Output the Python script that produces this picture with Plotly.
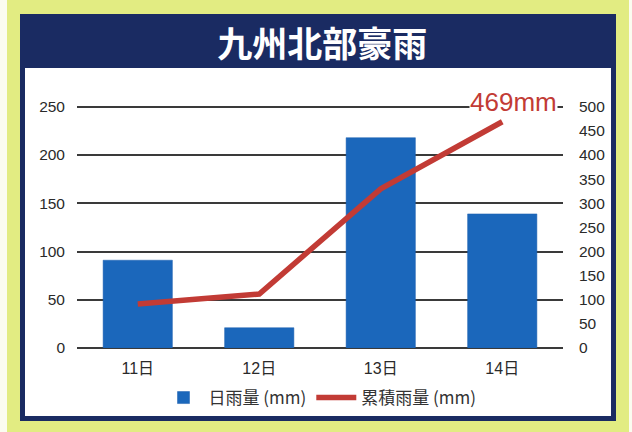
import plotly.graph_objects as go

# ---- data ----
days = ["11日", "12日", "13日", "14日"]
daily_rain = [91, 21, 218, 139]          # 日雨量 (mm)
cumulative_rain = [91, 112, 330, 469]    # 累積雨量 (mm)
left_ticks = [0, 50, 100, 150, 200, 250]
right_ticks = [0, 50, 100, 150, 200, 250, 300, 350, 400, 450, 500]

W, H = 632, 432
L, R, T, B = 77, 69, 102, 84
PW, PH = W - L - R, H - T - B


def px(x):
    return (x - L) / PW


def py(y):
    return (H - B - y) / PH


fig = go.Figure()

fig.add_trace(go.Bar(
    x=days, y=daily_rain, name="日雨量 (mm)",
    marker=dict(color="#1b67bb", line=dict(color="#1a5fae", width=0.5)),
    yaxis="y",
))
fig.add_trace(go.Scatter(
    x=days, y=cumulative_rain, name="累積雨量 (mm)", mode="lines",
    line=dict(color="#c23b35", width=5.5),
    yaxis="y2",
))

shapes = [
    # yellow-green outer border
    dict(type="rect", xref="paper", yref="paper", x0=px(7), x1=px(629), y0=py(0), y1=py(432),
         fillcolor="#e2ec82", line=dict(width=0), layer="below"),
    # navy frame
    dict(type="rect", xref="paper", yref="paper", x0=px(20), x1=px(616), y0=py(14), y1=py(421),
         fillcolor="#1a2b62", line=dict(width=0), layer="below"),
    # white inner panel
    dict(type="rect", xref="paper", yref="paper", x0=px(25), x1=px(611), y0=py(68), y1=py(416),
         fillcolor="#ffffff", line=dict(width=0), layer="below"),
]

fig.update_layout(
    width=W, height=H,
    margin=dict(l=L, r=R, t=T, b=B, pad=0),
    paper_bgcolor="#fbfcf0",
    plot_bgcolor="rgba(0,0,0,0)",
    shapes=shapes,
    bargap=0.43,
    showlegend=True,
    title=dict(
        text="<b>九州北部豪雨</b>",
        x=0.51, xanchor="center", y=1 - 45 / H, yanchor="middle", xref="container", yref="container",
        font=dict(family="Noto Sans CJK JP", size=35, color="#ffffff"),
    ),
    font=dict(family="Liberation Sans, Arial, sans-serif", color="#2a2a2a"),
    xaxis=dict(
        type="category", showgrid=False, zeroline=False, showline=False,
        ticks="", ticklabelstandoff=9,
        tickfont=dict(size=16, color="#2a2a2a", family="Liberation Sans, Noto Sans CJK JP"),
    ),
    yaxis=dict(
        range=[0, 255], tickvals=left_ticks, showgrid=True, gridcolor="#3a3a3a", gridwidth=1.5,
        zeroline=True, zerolinecolor="#3a3a3a", zerolinewidth=1.8, showline=False,
        ticks="", ticklabelstandoff=11, tickfont=dict(size=15.5, color="#2a2a2a"),
    ),
    yaxis2=dict(
        range=[0, 510], tickvals=right_ticks, overlaying="y", side="right",
        showgrid=False, zeroline=False, showline=False,
        ticks="", ticklabelstandoff=15, tickfont=dict(size=15.5, color="#2a2a2a"),
    ),
    legend=dict(
        orientation="h", x=0.5, xanchor="center", y=py(398), yanchor="middle",
        font=dict(size=17, color="#333333", family="Noto Sans CJK JP, Liberation Sans"),
        bgcolor="rgba(0,0,0,0)", itemwidth=40, tracegroupgap=0,
    ),
    annotations=[
        dict(
            text=f"{cumulative_rain[-1]}mm", xref="paper", yref="paper",
            x=px(513), y=py(102), xanchor="center", yanchor="middle", showarrow=False,
            font=dict(size=26, color="#c23b35", family="Liberation Sans, Arial"),
            bgcolor="#ffffff", borderpad=0,
        )
    ],
)

fig.write_html("out.html", config={"displayModeBar": False},
               post_script="document.body.style.margin='0';")
